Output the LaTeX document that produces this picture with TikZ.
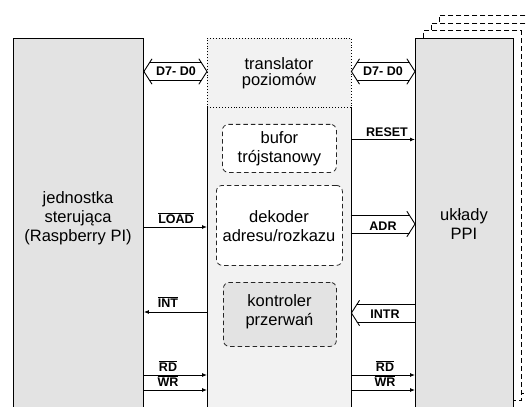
\documentclass[tikz,border=0pt]{standalone}
\usepackage{fontspec}
\setmainfont{Liberation Sans}
\usetikzlibrary{calc,arrows.meta}
\newcommand{\ovl}[1]{\vbox{\hrule height 0.9pt\kern 1.3pt\hbox{#1}}}
\newcommand{\chevL}[1]{\draw[busln] ($(#1)+(8,-12.5)$) -- (#1) -- ($(#1)+(8,12.5)$);}
\newcommand{\chevR}[1]{\draw[busln] ($(#1)+(-8,-12.5)$) -- (#1) -- ($(#1)+(-8,12.5)$);}
\newcommand{\busLines}[4]{\draw[busln] ($(#1)+(#3,-9)$) -- ($(#2)+(-#4,-9)$) ($(#1)+(#3,9)$) -- ($(#2)+(-#4,9)$);}
\begin{document}
\begin{tikzpicture}[x=1pt,y=-1pt,
  bigbox/.style={draw=black, line width=0.9pt, fill=black!11, inner sep=0, anchor=north west},
  stackbox/.style={draw=black, line width=0.9pt, fill=white, dash pattern=on 5pt off 3pt, inner sep=0, anchor=north west, minimum width=98, minimum height=370},
  midfill/.style={fill=black!5, draw=none, inner sep=0, anchor=north west},
  inbox/.style={draw=black!85, line width=0.8pt, dash pattern=on 4.5pt off 3pt, rounded corners=6pt, inner sep=0, anchor=north west},
  maintext/.style={font=\fontsize{16.5}{19}\selectfont, align=center, inner sep=0},
  lbl/.style={font=\fontsize{12.5}{14}\selectfont\bfseries, inner sep=0, anchor=base},
  sig/.style={line width=0.9pt, -{Latex[length=5pt,width=4pt]}},
  busln/.style={line width=0.9pt, line cap=round, line join=miter}]
\clip (0,0) rectangle (526,406);
\fill[white] (0,0) rectangle (526,406);
% left box
\node[bigbox, minimum width=130, minimum height=390] (L) at (13,38) {};
% middle column
\node[midfill, minimum width=144, minimum height=320] (M) at (207,107) {};
\draw[line width=0.9pt] (M.north west) -- (M.south west) (M.north east) -- (M.south east);
\node[midfill, minimum width=144, minimum height=69] (T) at (207,38) {};
\draw[line width=0.9pt, dotted] (T.south west) -- (T.north west) -- (T.north east) -- (T.south east) -- cycle;
% stacked PPI boxes
\node[stackbox] (S3) at (439,15) {};
\node[stackbox] (S2) at (431,22.6) {};
\node[stackbox] (S1) at (423,30.3) {};
\node[bigbox, minimum width=98, minimum height=370] (R) at (415,38) {};
% inner dashed boxes
\node[inbox, fill=white, minimum width=114, minimum height=48] (B) at (222,124) {};
\node[inbox, fill=white, minimum width=126, minimum height=80] (D) at (216,185) {};
\node[inbox, fill=black!11, minimum width=113, minimum height=64] (K) at (223,282) {};
% texts
\node[maintext] (Ltxt) at (78,218) {jednostka\\sterująca\\(Raspberry PI)};
\node[maintext, font=\fontsize{16.5}{16.5}\selectfont] (Ttxt) at (279,73) {translator\\poziomów};
\node[maintext] (Btxt) at (B.center) {bufor\\trójstanowy};
\node[maintext] (Dtxt) at (279,226) {dekoder\\adresu/rozkazu};
\node[maintext] (Ktxt) at (279.5,312) {kontroler\\przerwań};
\node[maintext] (Rtxt) at (464,224.5) {układy\\PPI};
% D7-D0 left bus
\coordinate (d1a) at (L.east |- 0,71.5);
\coordinate (d1b) at (T.west |- 0,71.5);
\chevL{d1a}\chevR{d1b}\busLines{d1a}{d1b}{5.8}{5.8}
\node[lbl] (d1lbl) at (176,75.5) {D7- D0};
% D7-D0 right bus
\coordinate (d2a) at (T.east |- 0,71.5);
\coordinate (d2b) at (R.west |- 0,71.5);
\chevL{d2a}\chevR{d2b}\busLines{d2a}{d2b}{5.8}{5.8}
\node[lbl] (d2lbl) at (383,75.5) {D7- D0};
% RESET
\draw[sig] (M.east |- 0,139.5) -- (R.west |- 0,139.5);
\node[lbl] (rstlbl) at (387,136.5) {RESET};
% LOAD
\draw[sig] (L.east |- 0,227) -- (M.west |- 0,227);
\node[lbl] (loadlbl) at (176,223.5) {\ovl{LOAD}};
% ADR bus
\coordinate (ada) at (M.east |- 0,224);
\coordinate (adb) at (R.west |- 0,224);
\chevR{adb}\busLines{ada}{adb}{0}{5.8}
\node[lbl] (adrlbl) at (383,230.5) {ADR};
% INT
\draw[sig] (M.west |- 0,312) -- (L.east |- 0,312);
\node[lbl] (intlbl) at (168,307.5) {\ovl{INT}};
% INTR bus
\coordinate (ina) at (M.east |- 0,313);
\coordinate (inb) at (R.west |- 0,313);
\chevL{ina}\busLines{ina}{inb}{5.8}{0}
\node[lbl] (intrlbl) at (385,318.5) {INTR};
% RD / WR left
\draw[sig] (L.east |- 0,375) -- (M.west |- 0,375);
\draw[sig] (L.east |- 0,390) -- (M.west |- 0,390);
\node[lbl] (rdl) at (168,371.5) {\ovl{RD}};
\node[lbl] (wrl) at (168,386.5) {\ovl{WR}};
% RD / WR right
\draw[sig] (M.east |- 0,375) -- (R.west |- 0,375);
\draw[sig] (M.east |- 0,390) -- (R.west |- 0,390);
\node[lbl] (rdr) at (385,371.5) {\ovl{RD}};
\node[lbl] (wrr) at (385,386.5) {\ovl{WR}};
\end{tikzpicture}
\end{document}
